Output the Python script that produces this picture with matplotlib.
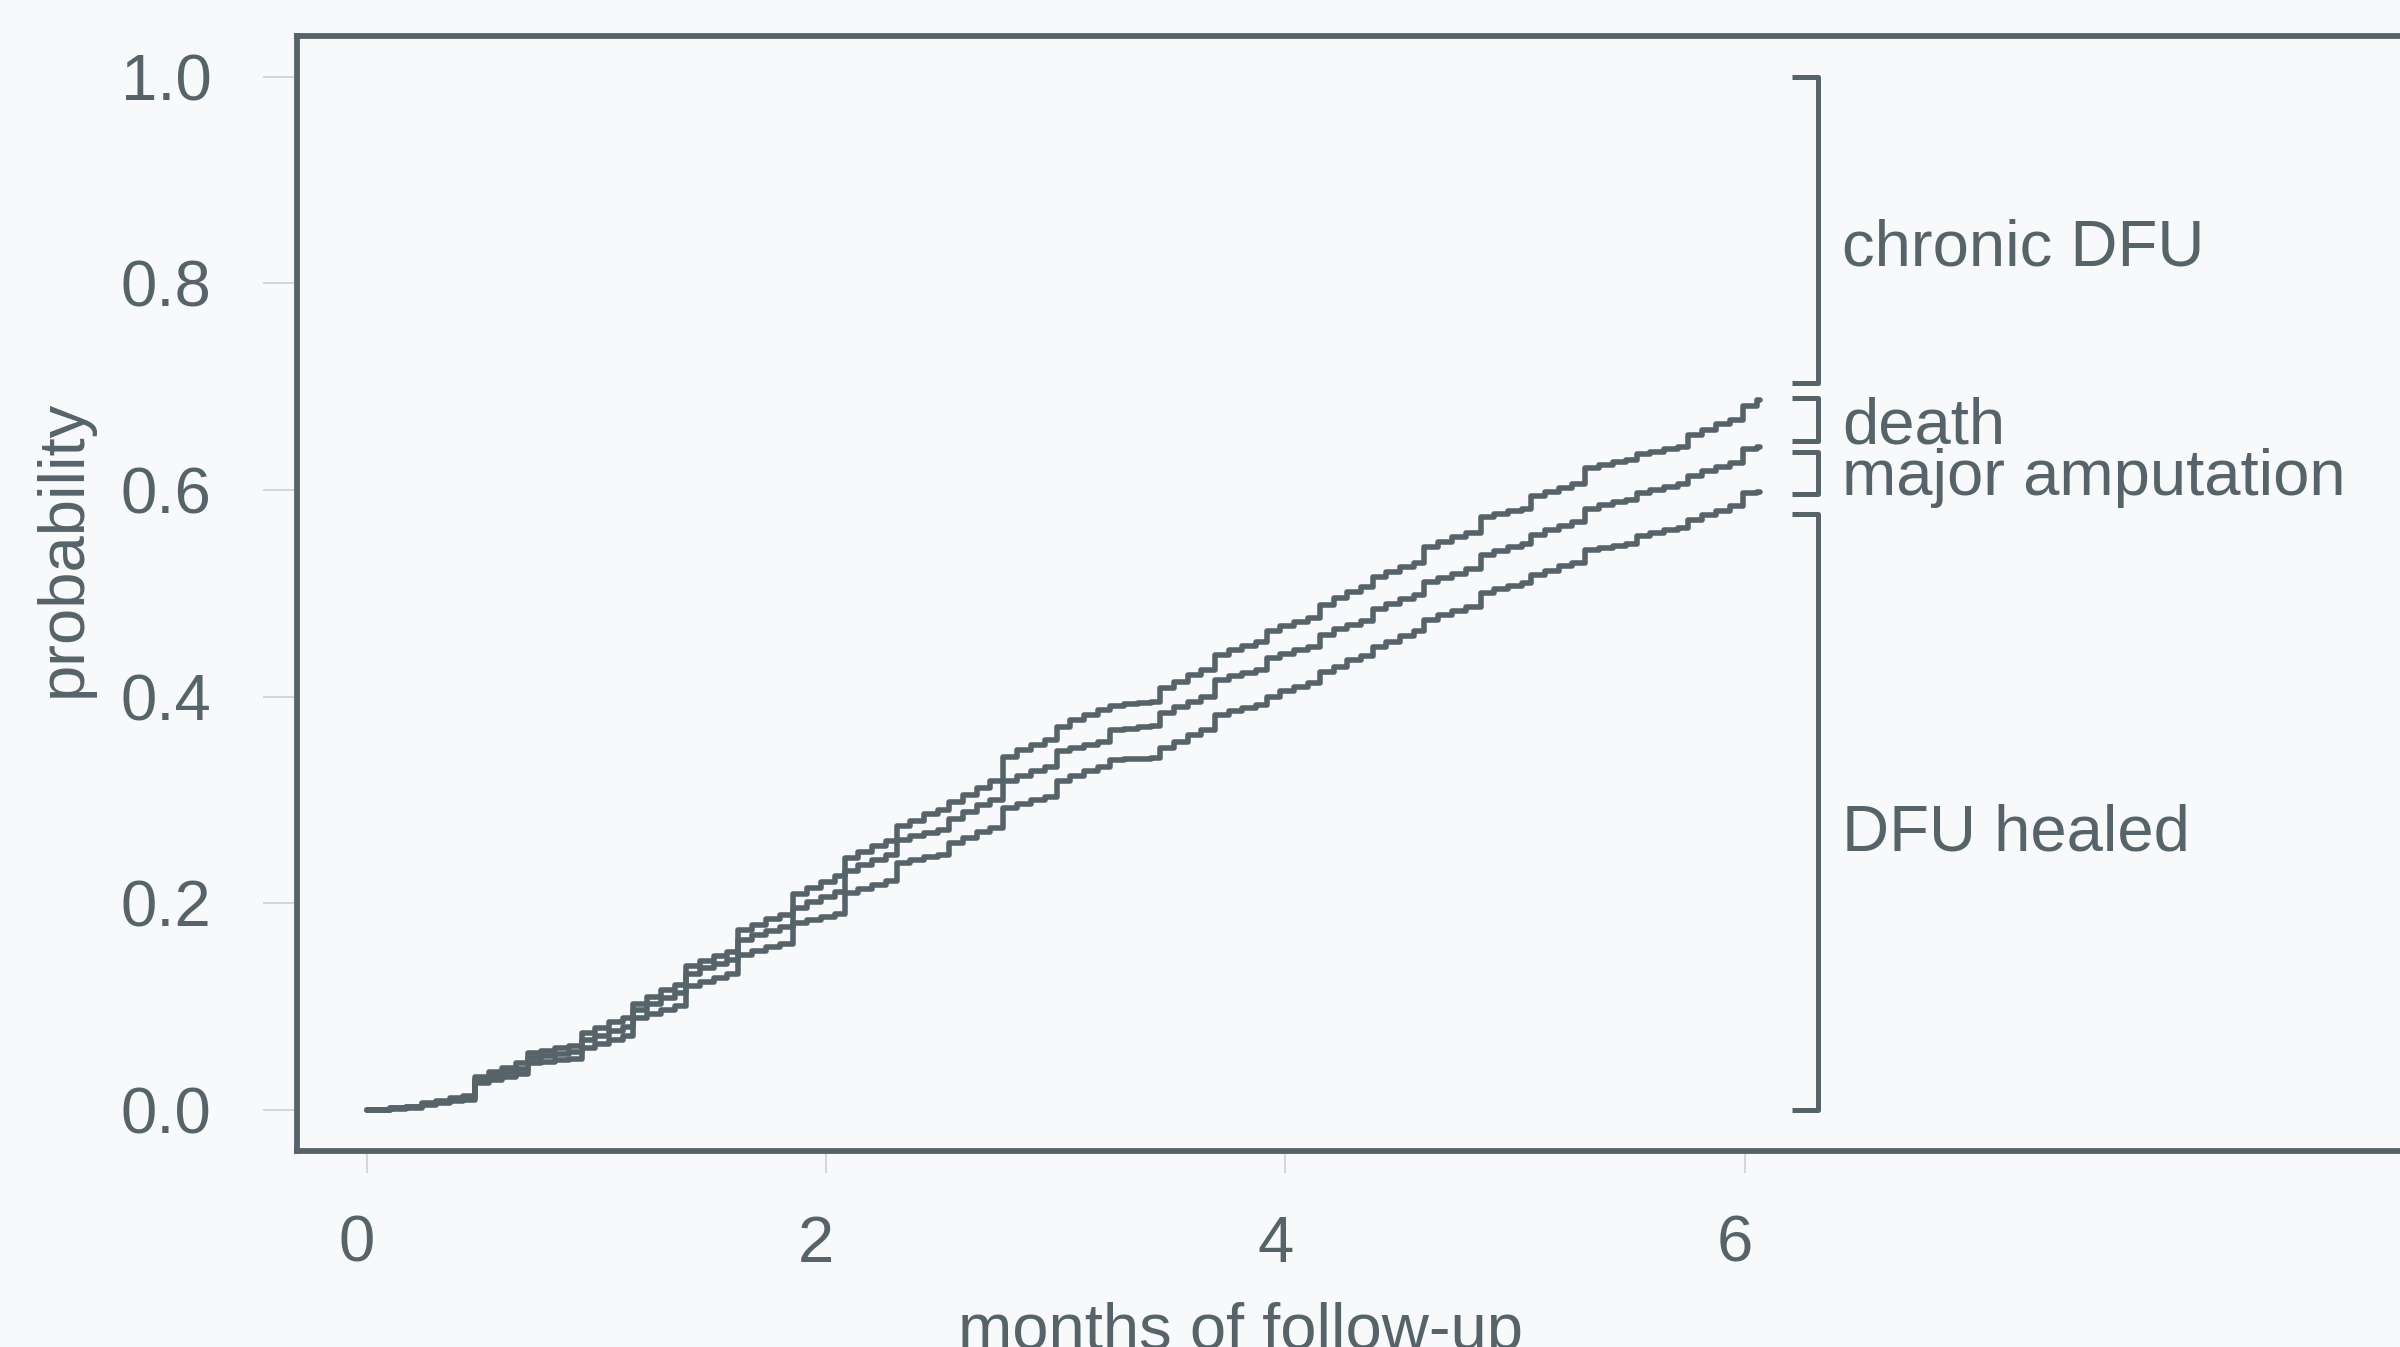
import matplotlib
matplotlib.use("Agg")
import matplotlib.pyplot as plt
from matplotlib.transforms import ScaledTranslation

# ---------------- data ----------------
months = [0.0, 0.10, 0.17,
          0.24, 0.30, 0.36, 0.42,
          0.47, 0.53, 0.59, 0.65,
          0.70, 0.76, 0.82, 0.88,
          0.935, 0.995, 1.055, 1.115,
          1.16, 1.22, 1.28, 1.34,
          1.39, 1.45, 1.51, 1.57,
          1.617, 1.677, 1.737, 1.797,
          1.857, 1.917, 1.977, 2.037,
          2.08, 2.14, 2.20, 2.26,
          2.307, 2.367, 2.427, 2.487,
          2.535, 2.595, 2.655, 2.715,
          2.771, 2.831, 2.891, 2.951,
          3.004, 3.064, 3.124, 3.184,
          3.236, 3.296, 3.356, 3.416,
          3.454, 3.514, 3.574, 3.634,
          3.693, 3.753, 3.813, 3.873,
          3.918, 3.978, 4.038, 4.098,
          4.15, 4.21, 4.27, 4.33,
          4.38, 4.44, 4.50, 4.56,
          4.605, 4.665, 4.725, 4.785,
          4.85, 4.91, 4.97, 5.03,
          5.07, 5.13, 5.19, 5.25,
          5.305, 5.365, 5.425, 5.485,
          5.53, 5.59, 5.65, 5.71,
          5.755, 5.815, 5.875, 5.935,
          5.995, 6.055, 6.067]

# cumulative incidence: healed + amputation + death (top curve)
top_curve = [0.0, 0.002, 0.003,
             0.007, 0.009, 0.012, 0.014,
             0.032, 0.037, 0.041, 0.045,
             0.055, 0.057, 0.060, 0.062,
             0.074, 0.079, 0.085, 0.089,
             0.103, 0.109, 0.116, 0.121,
             0.139, 0.144, 0.149, 0.153,
             0.174, 0.179, 0.185, 0.189,
             0.209, 0.215, 0.221, 0.226,
             0.244, 0.250, 0.255, 0.260,
             0.275, 0.280, 0.286, 0.290,
             0.298, 0.305, 0.312, 0.318,
             0.342, 0.348, 0.353, 0.358,
             0.371, 0.377, 0.382, 0.387,
             0.391, 0.393, 0.394, 0.395,
             0.408, 0.414, 0.421, 0.426,
             0.440, 0.445, 0.449, 0.453,
             0.463, 0.468, 0.472, 0.476,
             0.489, 0.495, 0.501, 0.506,
             0.516, 0.521, 0.525, 0.529,
             0.545, 0.550, 0.554, 0.558,
             0.574, 0.577, 0.580, 0.582,
             0.594, 0.598, 0.602, 0.606,
             0.621, 0.624, 0.627, 0.629,
             0.635, 0.637, 0.640, 0.642,
             0.653, 0.658, 0.664, 0.668,
             0.681, 0.687, 0.687]

# healed + amputation (middle curve)
middle_curve = [0.0, 0.002, 0.003,
                0.006, 0.008, 0.010, 0.012,
                0.029, 0.033, 0.037, 0.040,
                0.050, 0.052, 0.054, 0.056,
                0.068, 0.072, 0.076, 0.080,
                0.097, 0.103, 0.108, 0.113,
                0.132, 0.137, 0.141, 0.145,
                0.164, 0.169, 0.173, 0.177,
                0.195, 0.201, 0.206, 0.211,
                0.231, 0.237, 0.242, 0.247,
                0.261, 0.265, 0.268, 0.271,
                0.282, 0.288, 0.295, 0.300,
                0.318, 0.323, 0.328, 0.332,
                0.347, 0.350, 0.353, 0.356,
                0.368, 0.369, 0.371, 0.372,
                0.384, 0.390, 0.395, 0.400,
                0.416, 0.420, 0.423, 0.426,
                0.437, 0.441, 0.445, 0.448,
                0.460, 0.465, 0.469, 0.473,
                0.485, 0.490, 0.494, 0.498,
                0.511, 0.515, 0.519, 0.523,
                0.537, 0.541, 0.545, 0.548,
                0.556, 0.561, 0.565, 0.569,
                0.582, 0.585, 0.588, 0.590,
                0.597, 0.600, 0.603, 0.606,
                0.613, 0.618, 0.622, 0.626,
                0.640, 0.642, 0.642]

# healed (bottom curve)
bottom_curve = [0.0, 0.001, 0.002,
                0.005, 0.007, 0.009, 0.010,
                0.026, 0.029, 0.032, 0.035,
                0.045, 0.046, 0.048, 0.049,
                0.060, 0.064, 0.068, 0.072,
                0.089, 0.093, 0.097, 0.101,
                0.120, 0.124, 0.128, 0.132,
                0.150, 0.154, 0.158, 0.161,
                0.181, 0.184, 0.187, 0.190,
                0.210, 0.214, 0.218, 0.222,
                0.239, 0.242, 0.245, 0.247,
                0.258, 0.263, 0.269, 0.273,
                0.292, 0.296, 0.300, 0.303,
                0.318, 0.323, 0.328, 0.332,
                0.339, 0.340, 0.340, 0.341,
                0.350, 0.356, 0.363, 0.368,
                0.382, 0.386, 0.389, 0.392,
                0.400, 0.405, 0.409, 0.413,
                0.424, 0.429, 0.435, 0.439,
                0.448, 0.453, 0.459, 0.463,
                0.474, 0.479, 0.483, 0.487,
                0.500, 0.504, 0.507, 0.510,
                0.518, 0.522, 0.526, 0.529,
                0.542, 0.544, 0.546, 0.548,
                0.555, 0.558, 0.561, 0.563,
                0.571, 0.576, 0.580, 0.584,
                0.597, 0.598, 0.598]

x_ticks = [0, 2, 4, 6]
x_tick_labels = ["0", "2", "4", "6"]
y_ticks = [0.0, 0.2, 0.4, 0.6, 0.8, 1.0]
y_tick_labels = ["0.0", "0.2", "0.4", "0.6", "0.8", "1.0"]

bracket_labels = ["chronic DFU", "death", "major amputation", "DFU healed"]
bracket_low = [0.703, 0.647, 0.596, 0.0]
bracket_high = [1.0, 0.689, 0.637, 0.577]

# ---------------- styling / layout ----------------
W, H = 2400, 1347
BG = "#f8f9fa"
INK = "#56646a"
TICK = "#c8cdd0"
FS = 47
plt.rcParams["font.family"] = ["Liberation Sans", "DejaVu Sans"]

fig = plt.figure(figsize=(W / 100, H / 100), dpi=100)
fig.patch.set_facecolor(BG)

ax_left, ax_right, ax_top, ax_bottom = 297, 2600, 35.5, 1151
ax = fig.add_axes([ax_left / W, (H - ax_bottom) / H,
                   (ax_right - ax_left) / W, (ax_bottom - ax_top) / H])
ax.set_facecolor(BG)

px_per_month = 229.6
x0_px = 367
ax.set_xlim((ax_left - x0_px) / px_per_month, (ax_right - x0_px) / px_per_month)
ax.set_ylim(-0.0397, 1.0397)

for sp in ax.spines.values():
    sp.set_color(INK)
    sp.set_linewidth(4.2)

for curve in (top_curve, middle_curve, bottom_curve):
    ax.step(months, curve, where="post", color=INK, lw=4.0,
            solid_joinstyle="round", solid_capstyle="round", zorder=3)

ax.set_xticks(x_ticks)
ax.set_xticklabels(x_tick_labels)
ax.set_yticks(y_ticks)
ax.set_yticklabels(y_tick_labels)
ax.tick_params(axis="both", colors=TICK, labelcolor=INK, labelsize=FS, width=1.1)
ax.tick_params(axis="y", length=24.5, pad=37)
ax.tick_params(axis="x", length=16, pad=30)
shift = ScaledTranslation(-10 / 100, 0, fig.dpi_scale_trans)
for lab in ax.get_xticklabels():
    lab.set_transform(lab.get_transform() + shift)

# brackets
bx = 6.32
btick = 6.206
label_x = 6.425
label_baseline = [0.817, 0.6445, 0.595, 0.2506]
for lab, lo, hi, yb in zip(bracket_labels, bracket_low, bracket_high, label_baseline):
    ax.plot([btick, bx, bx, btick], [hi, hi, lo, lo], color=INK, lw=3.6,
            solid_joinstyle="round", solid_capstyle="butt", clip_on=False, zorder=3)
    ax.text(label_x, yb, lab, color=INK, fontsize=FS, ha="left", va="baseline",
            clip_on=False)

fig.text(64 / W, 1 - 548.5 / H, "probability", rotation=90, color=INK,
         fontsize=FS, ha="center", va="center")
fig.text(1240 / W, 1 - 1349 / H, "months of follow-up", color=INK,
         fontsize=FS, ha="center", va="baseline")

fig.savefig("out.png", dpi=100, facecolor=BG)
